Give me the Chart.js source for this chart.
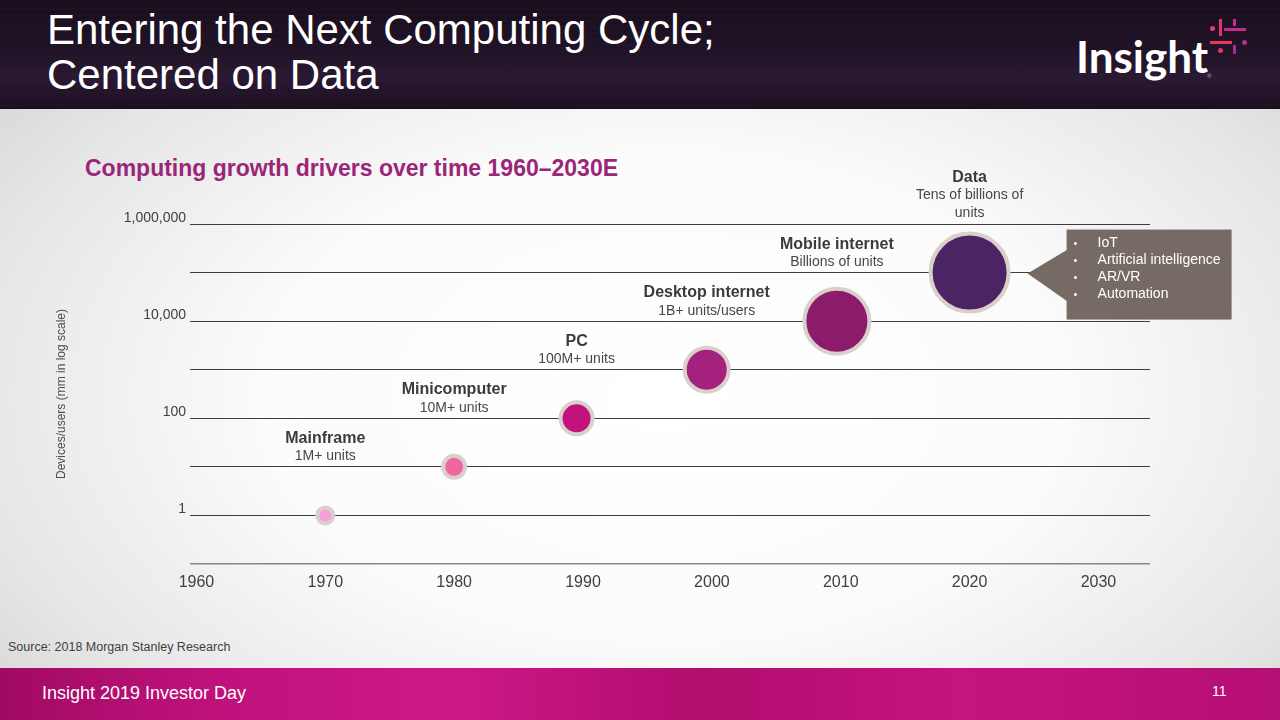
<!DOCTYPE html>
<html>
<head>
<meta charset="utf-8">
<script src="https://cdn.jsdelivr.net/npm/chart.js@4/dist/chart.umd.min.js"></script>
<style>
  html, body { margin:0; padding:0; }
  body { width:1280px; height:720px; overflow:hidden; position:relative;
    font-family:"Liberation Sans", Arial, sans-serif;
    background: radial-gradient(ellipse 70% 75% at 52% 55%, #ffffff 0%, #fbfbfb 45%, #e6e6e6 78%, #d2d2d2 100%); }
  #header { position:absolute; left:0; top:0; width:1280px; height:109px;
    background:
      repeating-linear-gradient(180deg, rgba(120,70,140,0.00) 0px, rgba(120,70,140,0.05) 3px, rgba(120,70,140,0.00) 6px),
      linear-gradient(180deg, #180d1b 0%, #1e1224 45%, #281830 72%, #190e1d 100%); }
  #title { position:absolute; left:47px; top:7px; color:#ffffff; font-size:42px; line-height:45px; white-space:nowrap; }
  #logo { position:absolute; left:1076px; top:34px; color:#ffffff; font-family:Lato, "Liberation Sans", sans-serif; font-weight:700; font-size:44px; line-height:44px; }
  .lg { position:absolute; }
  #subtitle { position:absolute; left:85px; top:154px; color:#9b2679; font-weight:bold; font-size:23px; line-height:28px; white-space:nowrap; }
  #source { position:absolute; left:8px; top:639px; color:#404040; font-size:12.5px; line-height:16px; white-space:nowrap; }
  #footer { position:absolute; left:0; top:668px; width:1280px; height:52px;
    background: linear-gradient(90deg, #a00a63 0%, #bd117a 15%, #cc1886 35%, #b20d6f 55%, #c4147e 75%, #b60f74 100%); }
  #footText { position:absolute; left:42px; top:683px; color:#fff; font-size:18px; line-height:20px; white-space:nowrap; }
  #pageNum { position:absolute; left:1212px; top:683px; color:#fff; font-size:14px; line-height:16px; }
  #chartWrap { position:absolute; left:0; top:110px; width:1280px; height:520px; }
</style>
</head>
<body>
<div id="header"></div>
<div id="title">Entering the Next Computing Cycle;<br>Centered on Data</div>
<div id="logo">Insight</div>
<!-- logo mark -->
<div class="lg" style="left:1210px;top:26px;width:5px;height:5px;border-radius:50%;background:#e33c6f"></div>
<div class="lg" style="left:1219px;top:19px;width:3px;height:17px;background:#e2336a"></div>
<div class="lg" style="left:1224px;top:28px;width:22px;height:3px;background:#c52a8d"></div>
<div class="lg" style="left:1233px;top:19px;width:3px;height:7px;background:#c22a8c"></div>
<div class="lg" style="left:1210px;top:41px;width:22px;height:3px;background:#e4345f"></div>
<div class="lg" style="left:1242px;top:40px;width:5px;height:5px;border-radius:50%;background:#b0309a"></div>
<div class="lg" style="left:1233px;top:45px;width:3px;height:9px;background:#a0309c"></div>
<div class="lg" style="left:1218px;top:48px;width:5px;height:5px;border-radius:50%;background:#e4345f"></div>
<div class="lg" style="left:1207px;top:73px;color:#bbb;font-size:6px;">®</div>

<div id="subtitle">Computing growth drivers over time 1960–2030E</div>
<div id="chartWrap"><canvas id="c" width="1280" height="520"></canvas></div>
<div id="source">Source: 2018 Morgan Stanley Research</div>
<div id="footer"></div>
<div id="footText">Insight 2019 Investor Day</div>
<div id="pageNum">11</div>

<script>
// ---- data ----
const categories = ['Mainframe', 'Minicomputer', 'PC', 'Desktop internet', 'Mobile internet', 'Data'];
const subtitles = [['1M+ units'], ['10M+ units'], ['100M+ units'], ['1B+ units/users'], ['Billions of units'], ['Tens of billions of', 'units']];
const years = [1970, 1980, 1989.5, 1999.6, 2009.7, 2020];
const devices = [1, 10, 100, 1000, 10000, 100000];
const bubbleR = [8, 11, 16, 22, 32.5, 39];
const xTicks = [1960, 1970, 1980, 1990, 2000, 2010, 2020, 2030];
const yGridValues = [0.1, 1, 10, 100, 1000, 10000, 100000, 1000000];
const yLabeledValues = [1, 100, 10000, 1000000];
const calloutItems = ['IoT', 'Artificial intelligence', 'AR/VR', 'Automation'];
const bubbleColors = ['#f5a0d9', '#f0679f', '#c1137b', '#a4217e', '#8d1b6c', '#4b2563'];

const labelPlugin = {
  id: 'bubbleLabels',
  afterDatasetsDraw(chart) {
    const ctx = chart.ctx;
    const meta = chart.getDatasetMeta(0);
    ctx.save();
    ctx.textAlign = 'center';
    ctx.textBaseline = 'middle';
    meta.data.forEach((pt, i) => {
      const lines = [{ t: categories[i], b: true }].concat(subtitles[i].map(s => ({ t: s, b: false })));
      const lastY = pt.y - 59;
      lines.forEach((ln, k) => {
        const y = lastY - 18 * (lines.length - 1 - k);
        ctx.font = ln.b ? 'bold 16px "Liberation Sans", Arial, sans-serif' : '14px "Liberation Sans", Arial, sans-serif';
        ctx.fillStyle = ln.b ? '#3b3b3b' : '#474747';
        ctx.fillText(ln.t, pt.x, y);
      });
    });
    // callout next to the last bubble
    const p = meta.data[meta.data.length - 1];
    const tipX = p.x + 58, tipY = p.y + 1;
    const bl = p.x + 97, bw = 165, bt = p.y - 43, bh = 90;
    ctx.fillStyle = '#766b64';
    ctx.beginPath();
    ctx.moveTo(tipX, tipY);
    ctx.lineTo(bl + 1, p.y - 23);
    ctx.lineTo(bl + 1, p.y + 29);
    ctx.closePath();
    ctx.fill();
    ctx.fillRect(bl, bt, bw, bh);
    ctx.fillStyle = '#ffffff';
    ctx.textAlign = 'left';
    calloutItems.forEach((t, k) => {
      const y = p.y - 29 + 17 * k;
      ctx.font = '11px "Liberation Sans", Arial, sans-serif';
      ctx.fillText('•', bl + 7, y);
      ctx.font = '14px "Liberation Sans", Arial, sans-serif';
      ctx.fillText(t, bl + 31, y);
    });
    ctx.restore();
  }
};

new Chart(document.getElementById('c'), {
  type: 'bubble',
  data: {
    datasets: [{
      data: years.map((x, i) => ({ x: x, y: devices[i], r: bubbleR[i] })),
      backgroundColor: bubbleColors,
      borderColor: '#d9d0cb',
      borderWidth: 4,
      clip: false
    }]
  },
  options: {
    responsive: false,
    animation: false,
    events: [],
    layout: { padding: { left: 50, right: 130, top: 114, bottom: 26 } },
    plugins: { legend: { display: false }, tooltip: { enabled: false } },
    scales: {
      x: {
        type: 'linear', min: 1959.5, max: 2034,
        afterBuildTicks: s => { s.ticks = xTicks.map(v => ({ value: v })); },
        afterFit: s => { s.height = 40; },
        grid: { display: false },
        border: { display: false },
        ticks: { autoSkip: false, maxRotation: 0, padding: 1, color: '#404040',
          font: { family: '"Liberation Sans", Arial, sans-serif', size: 16 },
          callback: v => String(v) }
      },
      y: {
        type: 'logarithmic', min: 0.1, max: 1000000,
        afterBuildTicks: s => { s.ticks = yGridValues.map(v => ({ value: v })); },
        afterFit: s => { s.width = 140; },
        border: { display: false },
        grid: { drawTicks: false, lineWidth: c => c.index === 0 ? 1.6 : 1,
          color: c => c.index === 0 ? '#868686' : '#3d3d3d' },
        ticks: { autoSkip: false, padding: 4, labelOffset: -6, color: '#404040',
          font: { family: '"Liberation Sans", Arial, sans-serif', size: 14 },
          callback: v => yLabeledValues.includes(v) ? v.toLocaleString('en-US') : '' },
        title: { display: true, text: 'Devices/users (mm in log scale)', color: '#4d4d4d', padding: 4,
          font: { family: '"Liberation Sans", Arial, sans-serif', size: 12 } }
      }
    }
  },
  plugins: [labelPlugin]
});
</script>
</body>
</html>
